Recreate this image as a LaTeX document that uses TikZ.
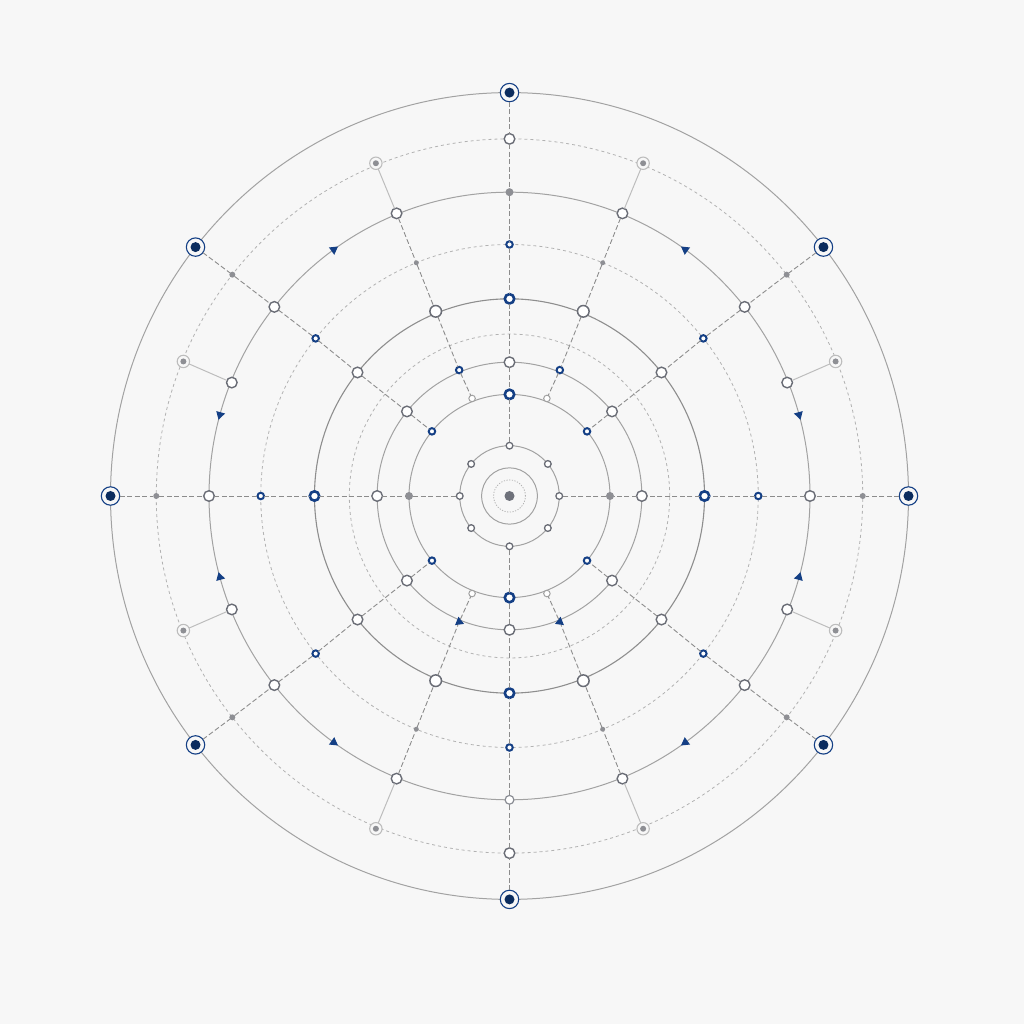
\documentclass[tikz,border=0pt]{standalone}
\usetikzlibrary{shapes.geometric}
\definecolor{bg}{HTML}{F7F7F7}
\definecolor{navy}{HTML}{143F85}
\definecolor{navyd}{HTML}{0B2C5E}
\definecolor{ringc}{HTML}{A2A2A2}
\definecolor{ringd}{HTML}{8E8E8E}
\definecolor{dashc}{HTML}{B2B2B2}
\definecolor{spokec}{HTML}{8C8C8C}
\definecolor{nodec}{HTML}{6A6D76}
\definecolor{nodel}{HTML}{8A8D94}
\definecolor{dotc}{HTML}{8E8F94}
\definecolor{lightc}{HTML}{BDBDBD}
\definecolor{cdotc}{HTML}{6E717A}
\begin{document}
\begin{tikzpicture}[x=0.995pt,y=1.006pt,
  ring/.style={draw=ringc,line width=1pt},
  dring/.style={draw=dashc,line width=0.8pt,dash pattern=on 3pt off 3pt},
  spoke/.style={draw=spokec,line width=0.9pt,dash pattern=on 5pt off 2.5pt},
  link/.style={draw=lightc,line width=1pt},
  base/.style={circle,inner sep=0pt,outer sep=0pt},
  bignav/.style={base,minimum size=18.4pt,draw=navy,line width=1.1pt,fill=bg,
    path picture={\fill[navyd] (path picture bounding box.center) circle (5pt);}},
  wc/.style={base,minimum size=10.6pt,draw=nodec,line width=1.4pt,fill=white},
  wcb/.style={base,minimum size=11.6pt,draw=nodec,line width=1.5pt,fill=white},
  wcl/.style={base,minimum size=8.8pt,draw=nodel,line width=1.2pt,fill=white},
  gd/.style={base,minimum size=6pt,fill=dotc},
  gds/.style={base,minimum size=5pt,fill=dotc},
  gdb/.style={base,minimum size=8pt,fill=dotc},
  nsm/.style={base,minimum size=6.5pt,draw=navy,line width=2pt,fill=white},
  nbg/.style={base,minimum size=9.4pt,draw=navy,line width=2.6pt,fill=white},
  ld/.style={base,minimum size=12.4pt,draw=lightc,line width=1.1pt,fill=bg,
    path picture={\fill[dotc] (path picture bounding box.center) circle (3pt);}},
  ls/.style={base,minimum size=6.5pt,draw=lightc!85!black,line width=1pt,fill=white},
  inn/.style={base,minimum size=6.7pt,draw=nodec,line width=1.3pt,fill=white},
  cdot/.style={base,minimum size=10pt,fill=cdotc},
  tri/.style={regular polygon,regular polygon sides=3,inner sep=0pt,outer sep=0pt,minimum size=10.5pt,fill=navy}
]
\useasboundingbox[fill=bg] (-509.5pt,-528pt) rectangle (514.5pt,496pt);

% rings
\draw[ring] (0,0) circle (401);
\draw[dring] (0,0) circle (355);
\draw[ring] (0,0) circle (302);
\draw[dring] (0,0) circle (250);
\draw[ring,draw=ringd,line width=1.1pt] (0,0) circle (196);
\draw[dring] (0,0) circle (161);
\draw[ring] (0,0) circle (133);
\draw[ring] (0,0) circle (101);
\draw[ring] (0,0) circle (50);
\draw[ring] (0,0) circle (28);
\draw[draw=dashc,line width=0.8pt,dash pattern=on 1.2pt off 1.5pt] (0,0) circle (16);
\node[cdot] (ctr) at (0,0) {};

% axis spokes
\foreach \s/\a/\sa/\sb/\sc in {t/90/wc/gdb/wc, b/270/wc/wcl/wc, r/0/gd/wc/gdb, l/180/gd/wc/gdb}{
  \node[bignav] (\s1) at (\a:401) {};
  \node[\sa] (\s2) at (\a:355) {};
  \node[\sb] (\s3) at (\a:302) {};
  \node[nsm] (\s4) at (\a:250) {};
  \node[nbg] (\s5) at (\a:196) {};
  \node[wc] (\s7) at (\a:133) {};
  \node[inn] (\s9) at (\a:50) {};
}
\node[nbg] (t8) at (90:101) {};
\node[nbg] (b8) at (270:101) {};
\node[gdb] (r8) at (0:101) {};
\node[gdb] (l8) at (180:101) {};
\foreach \s in {t,b,r,l}{
  \foreach \p/\q in {1/2,2/3,3/4,4/5,5/7,7/8,8/9}{
    \draw[spoke] (\s\p) -- (\s\q);
  }
}

% diagonal spokes
\foreach \k/\m/\o in {1/1/0,2/-1/180,3/1/180,4/-1/360}{
  \node[bignav] (d\k-1) at ({\o+\m*38.1}:401) {};
  \node[gd] (d\k-2) at ({\o+\m*38.3}:355) {};
  \node[wc] (d\k-3) at ({\o+\m*38.5}:302) {};
  \node[nsm] (d\k-4) at ({\o+\m*38.8}:250) {};
  \node[wc] (d\k-5) at ({\o+\m*38.8}:196) {};
  \node[wc] (d\k-7) at ({\o+\m*39.2}:133) {};
  \node[nsm] (d\k-8) at ({\o+\m*39.5}:101) {};
  \node[inn] (i\k) at ({\o+\m*39.6}:50) {};
}
\foreach \k in {1,2,3,4}{
  \foreach \p/\q in {1/2,2/3,3/4,4/5,5/7,7/8}{
    \draw[spoke] (d\k-\p) -- (d\k-\q);
  }
}

% secondary spokes near vertical
\foreach \k/\m/\o in {1/1/0,2/-1/180,3/1/180,4/-1/360}{
  \node[ld] (s\k-2) at ({\o+\m*67.9}:357) {};
  \node[wc] (s\k-3) at ({\o+\m*68}:303) {};
  \node[gds] (s\k-4) at ({\o+\m*68}:250) {};
  \node[wcb] (s\k-5) at ({\o+\m*68}:198) {};
  \node[ls] (s\k-8) at ({\o+\m*68.8}:104) {};
}
\node[nsm] (s1-7) at (68:135) {};
\node[nsm] (s2-7) at (112:135) {};
\node[tri,rotate=248] (s3-7) at (248:135) {};
\node[tri,rotate=112] (s4-7) at (292:135) {};
\foreach \k in {1,2,3,4}{
  \draw[link] (s\k-3) -- (s\k-2);
  \foreach \p/\q in {3/4,4/5,5/7,7/8}{
    \draw[spoke] (s\k-\p) -- (s\k-\q);
  }
}

% secondary spokes near horizontal
\foreach \k/\m/\o in {1/1/0,2/-1/180,3/1/180,4/-1/360}{
  \node[ld] (p\k-2) at ({\o+\m*22.2}:354) {};
  \node[wc] (p\k-3) at ({\o+\m*22}:301) {};
  \draw[link] (p\k-3) -- (p\k-2);
}

% arrows on the third ring
\foreach \n/\t/\r in {1/15.5/-164.5, 2/54.2/54.2, 3/125.8/-54.2, 4/164.5/164.5,
                      5/195.5/15.5, 6/234.2/234.2, 7/305.8/125.8, 8/344.5/-15.5}{
  \node[tri,rotate=\r] (a\n) at (\t:302) {};
}
\end{tikzpicture}
\end{document}
